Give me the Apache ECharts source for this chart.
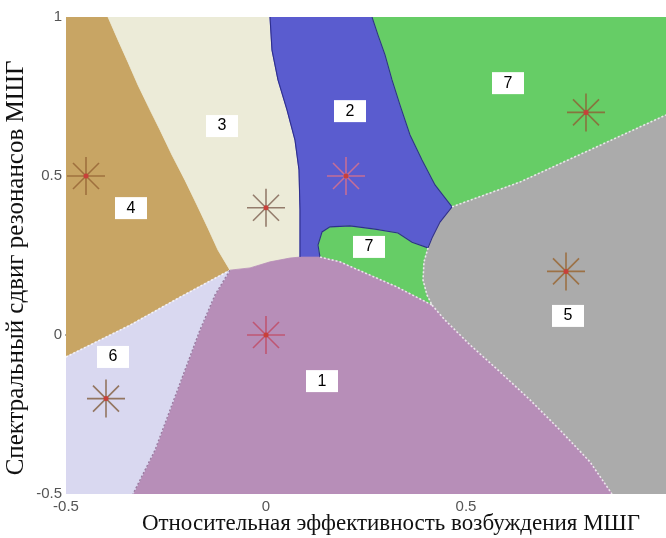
<!DOCTYPE html>
<html>
<head>
<meta charset="utf-8">
<script src="https://cdn.jsdelivr.net/npm/echarts@6/dist/echarts.min.js"></script>
<style>
  html, body { margin: 0; padding: 0; background: #fff; }
  #chart { width: 666px; height: 538px; }
</style>
</head>
<body>
<div id="chart"></div>
<script>
// Class boundaries (data units: x = relative excitation efficiency, y = spectral shift)
const edge43  = [[-0.395,1],[-0.37,0.928],[-0.345,0.858],[-0.32,0.786],[-0.29,0.708],[-0.265,0.645],[-0.235,0.566],[-0.2025,0.487],[-0.1725,0.409],[-0.145,0.336],[-0.12,0.267],[-0.09,0.204]];
const edge46  = [[-0.5,-0.069],[-0.34,0.031],[-0.215,0.119],[-0.09,0.204]];
const edge32  = [[0.01,1],[0.015,0.896],[0.03,0.802],[0.0525,0.708],[0.0725,0.613],[0.0825,0.519],[0.085,0.393],[0.085,0.245]];
const edge31  = [[-0.09,0.204],[-0.04,0.211],[0.01,0.230],[0.06,0.242],[0.085,0.245]];
const edge27s = [[0.135,0.245],[0.13,0.283],[0.14,0.324],[0.16,0.340],[0.21,0.343],[0.2725,0.333],[0.33,0.321],[0.365,0.292],[0.405,0.274]];
const edge71s = [[0.135,0.245],[0.185,0.230],[0.2425,0.198],[0.3275,0.151],[0.415,0.094]];
const edge75s = [[0.405,0.274],[0.395,0.230],[0.3925,0.173],[0.4025,0.126],[0.415,0.094]];
const edge27b = [[0.265,1],[0.28,0.943],[0.2975,0.881],[0.315,0.802],[0.335,0.723],[0.36,0.629],[0.39,0.550],[0.4225,0.472],[0.4475,0.431],[0.465,0.403]];
const edge25  = [[0.465,0.403],[0.435,0.355],[0.415,0.305],[0.405,0.274]];
const edge75b = [[0.465,0.403],[0.635,0.481],[0.81,0.582],[1.0,0.692]];
const edge15  = [[0.415,0.094],[0.4475,0.047],[0.51,-0.031],[0.585,-0.116],[0.66,-0.204],[0.735,-0.299],[0.81,-0.399],[0.865,-0.5]];
const edge61  = [[-0.09,0.204],[-0.1275,0.126],[-0.165,0.016],[-0.2025,-0.110],[-0.24,-0.236],[-0.2775,-0.362],[-0.3325,-0.5]];

// Class centres (asterisks)
const centres = [[0,0],[0.2,0.5],[0,0.4],[-0.45,0.5],[0.75,0.2],[-0.4,-0.2],[0.8,0.7]];

// Class number tags
const tagText = ['7','2','3','4','7','5','6','1'];
const tagX    = [0.605,0.21,-0.11,-0.3375,0.2575,0.755,-0.3825,0.14];
const tagY    = [0.792,0.704,0.657,0.399,0.277,0.060,-0.069,-0.145];

// Axis ticks
const xTicks = [-0.5, 0, 0.5, 1];
const yTicks = [-0.5, 0, 0.5, 1];

const rev = a => a.slice().reverse();

const regions = [
  { cls: '4', pts: [[-0.5,1], ...edge43, ...rev(edge46)] },
  { cls: '3', pts: [...edge32, ...rev(edge31), ...rev(edge43)] },
  { cls: '2', pts: [...edge27b, ...edge25, ...rev(edge27s), ...rev(edge32)] },
  { cls: '7', pts: [...edge27b, ...edge75b, [1,1]] },
  { cls: '7', pts: [...edge27s, ...edge75s, ...rev(edge71s)] },
  { cls: '5', pts: [...edge75b, [1,-0.5], ...rev(edge15), ...rev(edge75s), ...rev(edge25)] },
  { cls: '1', pts: [...edge31, ...edge71s, ...edge15, ...rev(edge61)] },
  { cls: '6', pts: [...edge46, ...edge61, [-0.5,-0.5]] }
];

const classColor = {
  '1': '#B78EB8', '2': '#5A5CCF', '3': '#ECEBD8', '4': '#C8A564',
  '5': '#ABABAB', '6': '#D9D8F0', '7': '#66CD66'
};
const starColor = ['#C0506A','#D07090','#8B7060','#9A6A3A','#9A6A3A','#8B6A50','#8B6A3A'];

// Rendering of the boundary fringes
const fringeLight = { stroke: 'rgba(255,255,255,0.75)', lineWidth: 1.6, lineDash: [2, 2] };
const fringeDark  = { stroke: '#2E2E8E', lineWidth: 1.1 };
const fringePurple = { stroke: '#9A7AA0', lineWidth: 1.4, lineDash: [2, 2] };
const fringes = [
  { pts: edge46,  style: fringeLight },
  { pts: edge61,  style: fringePurple },
  { pts: edge32,  style: fringeDark },
  { pts: edge27s, style: fringeDark },
  { pts: edge27b, style: fringeDark },
  { pts: edge25,  style: fringeDark },
  { pts: edge75b, style: fringeLight },
  { pts: edge75s, style: fringeLight },
  { pts: edge71s, style: fringeLight },
  { pts: edge15,  style: fringeLight }
];

const chart = echarts.init(document.getElementById('chart'), null, { renderer: 'canvas' });

const labelFont = { fontFamily: 'Liberation Sans, Arial, sans-serif', fontSize: 15, color: '#555' };
const serif = 'Liberation Serif, Times New Roman, serif';

chart.setOption({
  animation: false,
  grid: { left: 66, right: 0, top: 17, bottom: 44 },
  xAxis: {
    type: 'value', min: xTicks[0], max: xTicks[xTicks.length - 1], interval: 0.5,
    axisLine: { show: true, lineStyle: { color: '#333', width: 1.5 } },
    axisTick: { show: false }, splitLine: { show: false },
    axisLabel: Object.assign({ margin: 5, showMaxLabel: false, formatter: v => String(v) }, labelFont)
  },
  yAxis: {
    type: 'value', min: yTicks[0], max: yTicks[yTicks.length - 1], interval: 0.5,
    axisLine: { show: false }, axisTick: { show: false }, splitLine: { show: false },
    axisLabel: Object.assign({ margin: 4, formatter: v => String(v) }, labelFont)
  },
  graphic: [
    {
      type: 'text', x: 391, y: 524,
      style: { text: 'Относительная эффективность возбуждения МШГ', fontFamily: serif, fontSize: 23,
               fill: '#111', textAlign: 'center', textVerticalAlign: 'middle' }
    },
    {
      type: 'text', x: 16, y: 268, rotation: Math.PI / 2,
      style: { text: 'Спектральный сдвиг резонансов МШГ', fontFamily: serif, fontSize: 25,
               fill: '#111', textAlign: 'center', textVerticalAlign: 'middle' }
    }
  ],
  series: [
    {
      type: 'custom', clip: true, z: 1,
      data: regions.map((r, i) => [i]),
      encode: { x: -1, y: -1 },
      renderItem: (params, api) => {
        const r = regions[params.dataIndex];
        const c = classColor[r.cls];
        return {
          type: 'polygon',
          shape: { points: r.pts.map(p => api.coord(p)) },
          style: { fill: c, stroke: c, lineWidth: 0.8 }
        };
      }
    },
    {
      type: 'custom', clip: true, z: 2,
      data: fringes.map((f, i) => [i]),
      encode: { x: -1, y: -1 },
      renderItem: (params, api) => {
        const f = fringes[params.dataIndex];
        return {
          type: 'polyline',
          shape: { points: f.pts.map(p => api.coord(p)) },
          style: Object.assign({ fill: null }, f.style)
        };
      }
    },
    {
      type: 'custom', clip: true, z: 3,
      data: centres,
      renderItem: (params, api) => {
        const c = api.coord([api.value(0), api.value(1)]);
        const col = starColor[params.dataIndex];
        const a = 19, d = 13;
        const seg = (x1, y1, x2, y2) => ({
          type: 'line', shape: { x1: c[0] + x1, y1: c[1] + y1, x2: c[0] + x2, y2: c[1] + y2 },
          style: { stroke: col, lineWidth: 1.6, opacity: 0.9 }
        });
        return {
          type: 'group',
          children: [
            seg(-a, 0, a, 0), seg(0, -a, 0, a), seg(-d, -d, d, d), seg(-d, d, d, -d),
            { type: 'circle', shape: { cx: c[0], cy: c[1], r: 2.5 }, style: { fill: '#C8403A' } }
          ]
        };
      }
    },
    {
      type: 'scatter', z: 4,
      symbol: 'rect', symbolSize: [32, 22],
      itemStyle: { color: '#fff', opacity: 1 },
      label: {
        show: true, position: 'inside', color: '#000', fontSize: 16,
        fontFamily: 'Liberation Sans, Arial, sans-serif',
        formatter: p => p.value[2]
      },
      data: tagText.map((t, i) => [tagX[i], tagY[i], t])
    }
  ]
});
</script>
</body>
</html>
